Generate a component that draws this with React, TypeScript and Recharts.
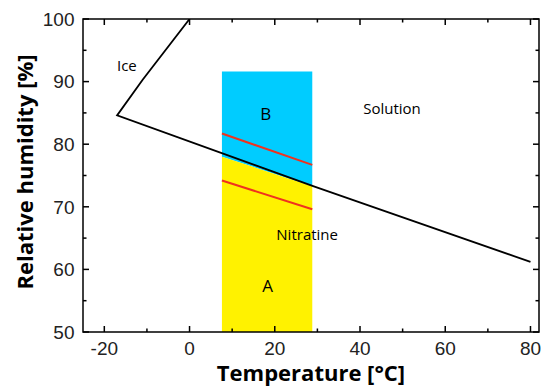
import React from 'react';
import {
  ComposedChart,
  Line,
  Area,
  XAxis,
  YAxis,
  ReferenceDot,
  ReferenceArea,
  Label,
} from 'recharts';

// axis ticks (minor + major)
const xTicks = [-20, -10, 0, 10, 20, 30, 40, 50, 60, 70, 80];
const yTicks = [50, 55, 60, 65, 70, 75, 80, 85, 90, 95, 100];
const xDomain = [-25, 82];
const yDomain = [50, 100];

// phase boundary (ice branch then solubility branch)
const boundaryT = [0, -11, -17, 29, 80];
const boundaryRH = [100, 90.3, 84.6, 73.3, 61.2];

// the measurement box
const boxT = [7.6, 28.8];
const boxLineRH = [78.0, 73.3];
const boxTopRH = 91.6;
const boxBottomRH = 50;

// red lines inside the box
const redUpperRH = [81.7, 76.7];
const redLowerRH = [74.2, 69.6];

// text labels in the plot
const regionNames = ['Ice', 'B', 'Solution', 'Nitratine', 'A'];
const regionT = [-14.7, 17.9, 47.5, 27.6, 18.3];
const regionRH = [92.6, 84.9, 85.7, 65.5, 57.3];
const regionSize = [15, 17, 15, 15, 17];

const boundary = boundaryT.map((t, i) => ({ t, rh: boundaryRH[i] }));
const blueArea = boxT.map((t, i) => ({ t, band: [boxLineRH[i], boxTopRH] }));
const yellowArea = boxT.map((t, i) => ({ t, band: [boxBottomRH, boxLineRH[i]] }));
const redUpper = boxT.map((t, i) => ({ t, rh: redUpperRH[i] }));
const redLower = boxT.map((t, i) => ({ t, rh: redLowerRH[i] }));

// layout
const W = 541;
const H = 386;
const MARGIN = { top: 19, right: 2, bottom: 0, left: 0 };
const X_AXIS_H = 54;
const Y_AXIS_W = 83;
const PLOT_TOP = MARGIN.top;
const PLOT_RIGHT = W - MARGIN.right;

const TICK_FONT = '"Liberation Sans", Arial, sans-serif';
const TITLE_FONT = '"Open Sans", sans-serif';
const TICK_W = 1.5;
const TICK_C = '#000';

// bottom ticks, with the mirrored ticks on the top edge
function BottomTick(props: any) {
  const x = Number(props.x);
  const y = Number(props.y);
  const major = props.payload.value % 20 === 0;
  const len = major ? 6 : 3.5;
  return (
    <g>
      <rect x={x - TICK_W / 2} y={y - len} width={TICK_W} height={len} fill={TICK_C} />
      <rect x={x - TICK_W / 2} y={PLOT_TOP} width={TICK_W} height={len} fill={TICK_C} />
      {major && (
        <text x={x} y={y + 23} textAnchor="middle" fontSize={19} fontFamily={TICK_FONT} fill="#222">
          {props.payload.value}
        </text>
      )}
    </g>
  );
}

// left ticks, with the mirrored ticks on the right edge
function LeftTick(props: any) {
  const x = Number(props.x);
  const y = Number(props.y);
  const major = props.payload.value % 10 === 0;
  const len = major ? 6 : 3.5;
  return (
    <g>
      <rect x={x} y={y - TICK_W / 2} width={len} height={TICK_W} fill={TICK_C} />
      <rect x={PLOT_RIGHT - len} y={y - TICK_W / 2} width={len} height={TICK_W} fill={TICK_C} />
      {major && (
        <text x={x - 8.5} y={y} dy="0.36em" textAnchor="end" fontSize={19} fontFamily={TICK_FONT} fill="#222">
          {props.payload.value}
        </text>
      )}
    </g>
  );
}

function XTitle() {
  return (
    <text x={311} y={381} textAnchor="middle" fontSize={22} fontWeight="bold" fontFamily={TITLE_FONT} fill="#000">
      Temperature [°C]
    </text>
  );
}

function YTitle() {
  return (
    <text
      transform="translate(33 172) rotate(-90)"
      textAnchor="middle"
      fontSize={22}
      fontWeight="bold"
      fontFamily={TITLE_FONT}
      fill="#000"
    >
      Relative humidity [%]
    </text>
  );
}

export default function App() {
  return (
    <div style={{ position: 'absolute', left: 0, top: 0, background: '#fff' }}>
      <ComposedChart width={W} height={H} margin={MARGIN}>
        <XAxis
          dataKey="t"
          type="number"
          domain={xDomain}
          ticks={xTicks}
          interval={0}
          height={X_AXIS_H}
          tickSize={0}
          tickMargin={0}
          tickLine={false}
          axisLine={false}
          tick={<BottomTick />}
          allowDataOverflow
        >
          <Label content={<XTitle />} />
        </XAxis>
        <YAxis
          type="number"
          domain={yDomain}
          ticks={yTicks}
          interval={0}
          width={Y_AXIS_W}
          tickSize={0}
          tickMargin={0}
          tickLine={false}
          axisLine={false}
          tick={<LeftTick />}
          allowDataOverflow
        >
          <Label content={<YTitle />} />
        </YAxis>

        <Area
          data={blueArea}
          dataKey="band"
          type="linear"
          stroke="none"
          fill="#00ccff"
          fillOpacity={1}
          isAnimationActive={false}
          activeDot={false}
        />
        <Area
          data={yellowArea}
          dataKey="band"
          type="linear"
          stroke="none"
          fill="#fff200"
          fillOpacity={1}
          isAnimationActive={false}
          activeDot={false}
        />
        <Line
          data={boundary}
          dataKey="rh"
          type="linear"
          stroke="#000"
          strokeWidth={1.8}
          dot={false}
          activeDot={false}
          isAnimationActive={false}
        />
        <Line
          data={redUpper}
          dataKey="rh"
          type="linear"
          stroke="#f0321e"
          strokeWidth={2}
          dot={false}
          activeDot={false}
          isAnimationActive={false}
        />
        <Line
          data={redLower}
          dataKey="rh"
          type="linear"
          stroke="#f0321e"
          strokeWidth={2}
          dot={false}
          activeDot={false}
          isAnimationActive={false}
        />

        {/* plot frame */}
        <ReferenceArea
          x1={xDomain[0]}
          x2={xDomain[1]}
          y1={yDomain[0]}
          y2={yDomain[1]}
          fill="none"
          stroke="#000"
          strokeWidth={1.5}
          ifOverflow="visible"
        />

        {regionNames.map((name, i) => (
          <ReferenceDot
            key={name}
            x={regionT[i]}
            y={regionRH[i]}
            r={0}
            fill="none"
            stroke="none"
            label={{
              value: name,
              position: 'center',
              fontSize: regionSize[i],
              fontFamily: TITLE_FONT,
              fill: '#000',
            }}
          />
        ))}
      </ComposedChart>
    </div>
  );
}
